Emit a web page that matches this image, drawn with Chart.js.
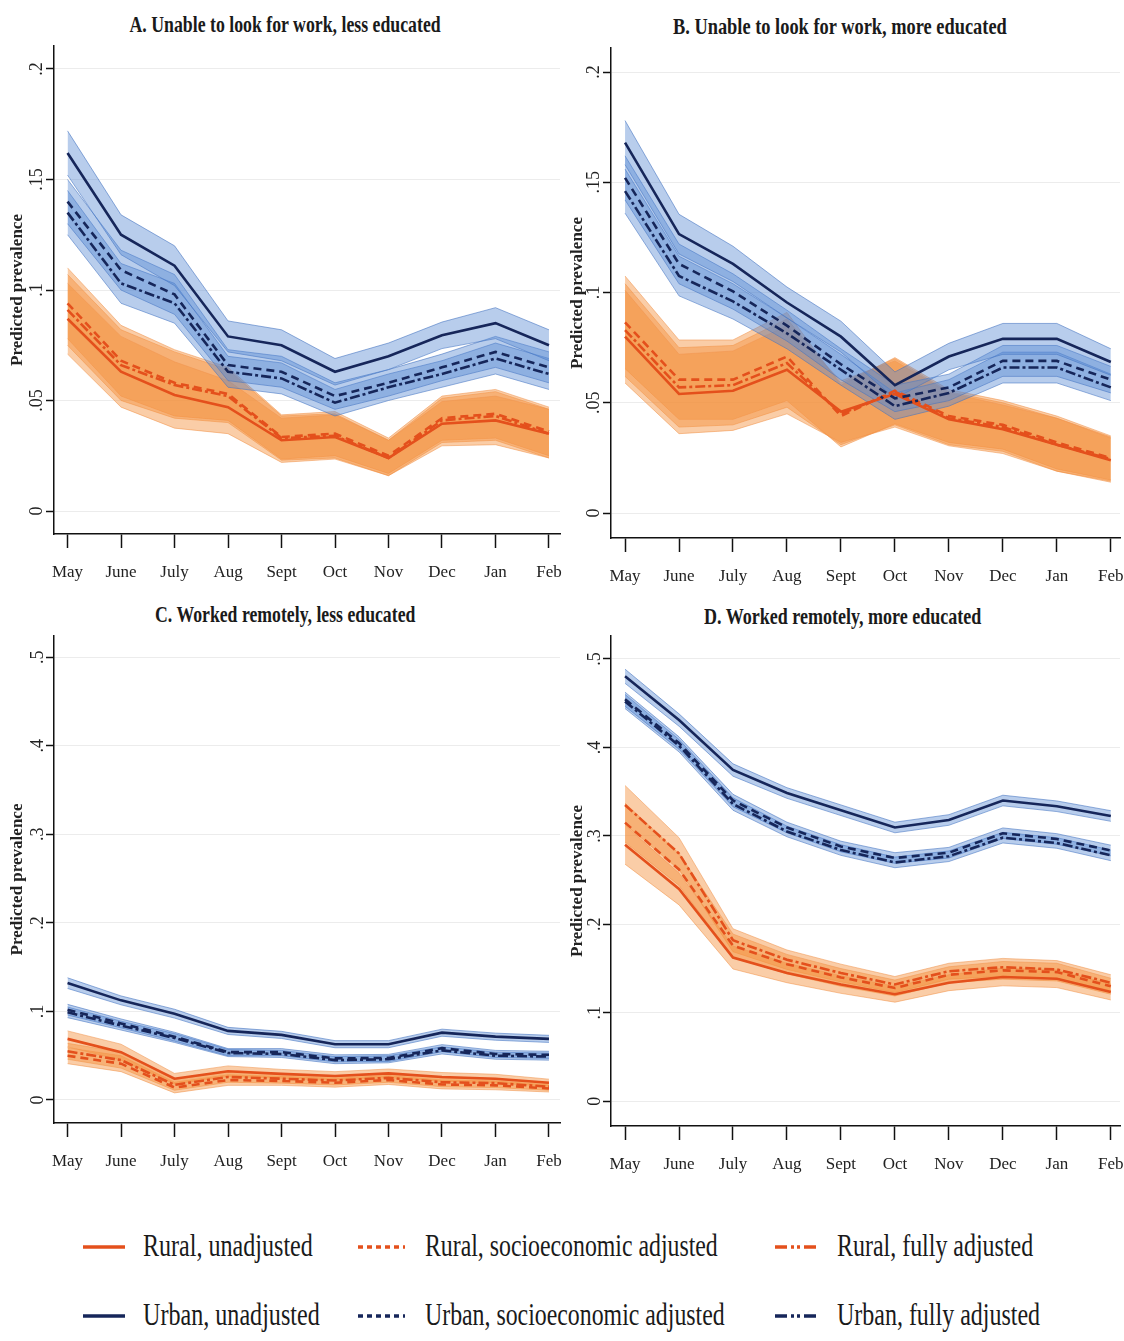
<!DOCTYPE html>
<html>
<head>
<meta charset="utf-8">
<script src="https://cdn.jsdelivr.net/npm/chart.js@4.4.1/dist/chart.umd.min.js"></script>
<style>
  html, body { margin: 0; padding: 0; background: #fff; }
  body { width: 1124px; height: 1341px; position: relative; overflow: hidden; font-family: 'Liberation Serif', serif; }
  .panel { position: absolute; }
  .title { position: absolute; width: 600px; text-align: center; font-weight: bold; font-size: 24px; line-height: 24px; color: #1a1a1a; white-space: nowrap; }
  .fit { display: inline-block; white-space: nowrap; transform-origin: center center; }
  .lg-text { position: absolute; font-size: 32px; line-height: 32px; color: #1a1a1a; white-space: nowrap; transform-origin: left center; }
  .lg-line { position: absolute; }
</style>
</head>
<body>

<div class="title" style="left:-15px; top:12px;"><span class="fit" data-w="311">A. Unable to look for work, less educated</span></div>
<div class="title" style="left:540px; top:14px;"><span class="fit" data-w="334">B. Unable to look for work, more educated</span></div>
<div class="title" style="left:-15px; top:602px;"><span class="fit" data-w="260">C. Worked remotely, less educated</span></div>
<div class="title" style="left:543px; top:604px;"><span class="fit" data-w="277">D. Worked remotely, more educated</span></div>

<div class="panel" style="left:0; top:0;"><canvas id="chartA" width="565" height="600"></canvas></div>
<div class="panel" style="left:560px; top:0;"><canvas id="chartB" width="564" height="600"></canvas></div>
<div class="panel" style="left:0; top:590px;"><canvas id="chartC" width="565" height="600"></canvas></div>
<div class="panel" style="left:560px; top:590px;"><canvas id="chartD" width="564" height="600"></canvas></div>

<div id="legend"></div>

<script>
// ── Data ─────────────────────────────────────────────────────────────────────
const months = ['May', 'June', 'July', 'Aug', 'Sept', 'Oct', 'Nov', 'Dec', 'Jan', 'Feb'];
const yTicksAB = [0, 0.05, 0.1, 0.15, 0.2];
const yTicksCD = [0, 0.1, 0.2, 0.3, 0.4, 0.5];

// A. Unable to look for work, less educated
const aUrbanUnadj = [0.162, 0.125, 0.111, 0.079, 0.075, 0.063, 0.070, 0.0795, 0.085, 0.075];
const aUrbanSocio = [0.140, 0.109, 0.098, 0.066, 0.063, 0.052, 0.058, 0.065, 0.072, 0.065];
const aUrbanFull  = [0.135, 0.103, 0.094, 0.063, 0.060, 0.049, 0.056, 0.062, 0.069, 0.062];
const aUrbanCI    = [0.010, 0.009, 0.009, 0.007, 0.007, 0.006, 0.006, 0.006, 0.007, 0.007];
const aRuralUnadj = [0.087, 0.063, 0.0525, 0.047, 0.032, 0.0335, 0.024, 0.0395, 0.041, 0.035];
const aRuralSocio = [0.094, 0.068, 0.058, 0.053, 0.0335, 0.035, 0.025, 0.042, 0.044, 0.036];
const aRuralFull  = [0.091, 0.066, 0.057, 0.052, 0.033, 0.034, 0.024, 0.041, 0.043, 0.035];
const aRuralCI    = [0.016, 0.016, 0.015, 0.012, 0.010, 0.010, 0.008, 0.010, 0.011, 0.011];

// B. Unable to look for work, more educated
const bUrbanUnadj = [0.168, 0.1265, 0.113, 0.0955, 0.080, 0.058, 0.071, 0.079, 0.079, 0.0685];
const bUrbanSocio = [0.152, 0.113, 0.1005, 0.085, 0.0675, 0.052, 0.057, 0.069, 0.069, 0.0605];
const bUrbanFull  = [0.146, 0.1075, 0.096, 0.0815, 0.065, 0.0485, 0.0545, 0.066, 0.066, 0.057];
const bUrbanCI    = [0.010, 0.009, 0.008, 0.007, 0.007, 0.006, 0.006, 0.007, 0.007, 0.006];
const bRuralUnadj = [0.080, 0.054, 0.0555, 0.065, 0.046, 0.054, 0.0425, 0.038, 0.031, 0.024];
const bRuralSocio = [0.0865, 0.0605, 0.0605, 0.071, 0.044, 0.0555, 0.044, 0.040, 0.032, 0.025];
const bRuralFull  = [0.083, 0.057, 0.058, 0.068, 0.045, 0.055, 0.043, 0.039, 0.031, 0.0245];
const bRuralCI    = [0.021, 0.018, 0.018, 0.020, 0.014, 0.015, 0.012, 0.011, 0.012, 0.010];

// C. Worked remotely, less educated
const cUrbanUnadj = [0.132, 0.1125, 0.0975, 0.078, 0.0735, 0.063, 0.063, 0.076, 0.0715, 0.069];
const cUrbanSocio = [0.102, 0.0865, 0.0715, 0.054, 0.054, 0.047, 0.0475, 0.0585, 0.052, 0.051];
const cUrbanFull  = [0.099, 0.084, 0.070, 0.053, 0.052, 0.045, 0.046, 0.056, 0.050, 0.049];
const cUrbanCI    = [0.006, 0.005, 0.005, 0.004, 0.004, 0.004, 0.004, 0.004, 0.004, 0.004];
const cRuralUnadj = [0.069, 0.054, 0.024, 0.0325, 0.0295, 0.027, 0.030, 0.026, 0.024, 0.0195];
const cRuralSocio = [0.050, 0.041, 0.014, 0.0225, 0.0215, 0.0195, 0.0225, 0.0175, 0.0165, 0.013];
const cRuralFull  = [0.055, 0.045, 0.017, 0.026, 0.024, 0.022, 0.025, 0.020, 0.019, 0.015];
const cRuralCI    = [0.009, 0.009, 0.006, 0.006, 0.005, 0.005, 0.005, 0.005, 0.005, 0.004];

// D. Worked remotely, more educated
const dUrbanUnadj = [0.4805, 0.431, 0.3745, 0.3485, 0.329, 0.3095, 0.318, 0.340, 0.3335, 0.3225];
const dUrbanSocio = [0.4545, 0.405, 0.340, 0.3095, 0.288, 0.275, 0.281, 0.303, 0.2965, 0.2835];
const dUrbanFull  = [0.452, 0.402, 0.336, 0.305, 0.284, 0.270, 0.277, 0.298, 0.292, 0.278];
const dUrbanCI    = [0.008, 0.007, 0.007, 0.006, 0.006, 0.006, 0.006, 0.006, 0.006, 0.006];
const dRuralUnadj = [0.290, 0.240, 0.1625, 0.145, 0.132, 0.121, 0.134, 0.1405, 0.1385, 0.1235];
const dRuralSocio = [0.315, 0.262, 0.176, 0.155, 0.140, 0.128, 0.143, 0.148, 0.146, 0.130];
const dRuralFull  = [0.335, 0.280, 0.182, 0.160, 0.145, 0.132, 0.147, 0.1515, 0.149, 0.134];
const dRuralCI    = [0.022, 0.018, 0.013, 0.011, 0.010, 0.009, 0.009, 0.010, 0.010, 0.009];

const legendLabels = [
  'Rural, unadjusted', 'Rural, socioeconomic adjusted', 'Rural, fully adjusted',
  'Urban, unadjusted', 'Urban, socioeconomic adjusted', 'Urban, fully adjusted'
];

// ── Styles ───────────────────────────────────────────────────────────────────
const URBAN_LINE  = '#16265a';
const RURAL_LINE  = '#e4501c';
const URBAN_BAND  = 'rgba(85,135,210,0.42)';
const URBAN_EDGE  = 'rgba(60,110,190,0.55)';
const RURAL_BAND  = 'rgba(243,145,60,0.45)';
const RURAL_EDGE  = 'rgba(240,150,80,0.55)';
const DASH = { unadj: [], socio: [8, 5], full: [10, 3, 3, 3] };

Chart.defaults.font.family = "'Liberation Serif', serif";

const fmtY = v => (v === 0 ? '0' : String(v).replace(/^0/, ''));
const pts  = arr => arr.map((v, i) => ({ x: i, y: v }));

function makePanel(id, p) {
  const datasets = [];
  p.series.forEach(s => {
    const urban = s.area === 'urban';
    const up = datasets.length;
    datasets.push({
      data: pts(s.mean.map((v, i) => v + s.ci[i])),
      borderColor: urban ? URBAN_EDGE : RURAL_EDGE, borderWidth: 1,
      backgroundColor: urban ? URBAN_BAND : RURAL_BAND,
      pointRadius: 0, fill: { target: up + 1 }, order: 10
    });
    datasets.push({
      data: pts(s.mean.map((v, i) => v - s.ci[i])),
      borderColor: urban ? URBAN_EDGE : RURAL_EDGE, borderWidth: 1,
      pointRadius: 0, fill: false, order: 10
    });
  });
  p.series.forEach(s => {
    datasets.push({
      data: pts(s.mean),
      borderColor: s.area === 'urban' ? URBAN_LINE : RURAL_LINE,
      borderWidth: 2.6, borderDash: DASH[s.kind],
      pointRadius: 0, fill: false, order: 1
    });
  });

  return new Chart(document.getElementById(id), {
    type: 'line',
    data: { datasets },
    options: {
      responsive: false,
      animation: false,
      layout: { padding: { top: p.padTop, right: p.padRight, left: 0, bottom: 0 } },
      plugins: { legend: { display: false }, tooltip: { enabled: false } },
      scales: {
        x: {
          type: 'linear', min: p.xMin, max: p.xMax,
          afterBuildTicks: ax => { ax.ticks = months.map((m, i) => ({ value: i })); },
          afterFit: ax => { ax.height = p.xAxisH; ax.paddingLeft = 0; ax.paddingRight = 0; },
          ticks: { autoSkip: false, minRotation: 0, maxRotation: 0, padding: 14, color: '#222',
                   font: { size: 17 }, callback: v => months[v] },
          grid: { drawOnChartArea: false, drawTicks: true, tickLength: 14, tickColor: '#111', tickWidth: 1.5 },
          border: { display: true, color: '#111', width: 1.5 }
        },
        y: {
          min: p.yMin, max: p.yMax,
          afterBuildTicks: ax => { ax.ticks = p.yTicks.map(v => ({ value: v })); },
          afterFit: ax => { ax.width = p.yAxisW; ax.paddingTop = 0; ax.paddingBottom = 0; },
          ticks: { minRotation: 90, maxRotation: 90, crossAlign: 'center', padding: p.yTickPad,
                   color: '#222', font: { size: 18 }, callback: fmtY },
          grid: { color: '#ececec', lineWidth: 1, tickLength: 8, tickColor: '#111', tickWidth: 1.5 },
          border: { display: true, color: '#111', width: 1.5 },
          title: { display: true, text: 'Predicted prevalence', color: '#222',
                   font: { size: 17, weight: 'bold' }, padding: { top: 7, bottom: 0 } }
        }
      }
    }
  });
}

function series(uU, uS, uF, uCI, rU, rS, rF, rCI) {
  return [
    { area: 'urban', kind: 'unadj', mean: uU, ci: uCI },
    { area: 'urban', kind: 'socio', mean: uS, ci: uCI },
    { area: 'urban', kind: 'full',  mean: uF, ci: uCI },
    { area: 'rural', kind: 'unadj', mean: rU, ci: rCI },
    { area: 'rural', kind: 'socio', mean: rS, ci: rCI },
    { area: 'rural', kind: 'full',  mean: rF, ci: rCI }
  ];
}

makePanel('chartA', {
  series: series(aUrbanUnadj, aUrbanSocio, aUrbanFull, aUrbanCI, aRuralUnadj, aRuralSocio, aRuralFull, aRuralCI),
  yMin: -0.0104, yMax: 0.2104, yTicks: yTicksAB, xMin: -0.253, xMax: 9.206,
  padTop: 46, padRight: 5, yAxisW: 54, xAxisH: 66, yTickPad: -3
});
makePanel('chartB', {
  series: series(bUrbanUnadj, bUrbanSocio, bUrbanFull, bUrbanCI, bRuralUnadj, bRuralSocio, bRuralFull, bRuralCI),
  yMin: -0.0113, yMax: 0.2109, yTicks: yTicksAB, xMin: -0.26, xMax: 9.17,
  padTop: 48, padRight: 4, yAxisW: 51, xAxisH: 62, yTickPad: -3
});
makePanel('chartC', {
  series: series(cUrbanUnadj, cUrbanSocio, cUrbanFull, cUrbanCI, cRuralUnadj, cRuralSocio, cRuralFull, cRuralCI),
  yMin: -0.026, yMax: 0.524, yTicks: yTicksCD, xMin: -0.253, xMax: 9.206,
  padTop: 46, padRight: 5, yAxisW: 54, xAxisH: 67, yTickPad: 1
});
makePanel('chartD', {
  series: series(dUrbanUnadj, dUrbanSocio, dUrbanFull, dUrbanCI, dRuralUnadj, dRuralSocio, dRuralFull, dRuralCI),
  yMin: -0.028, yMax: 0.526, yTicks: yTicksCD, xMin: -0.26, xMax: 9.17,
  padTop: 46, padRight: 4, yAxisW: 51, xAxisH: 64, yTickPad: 1
});

// ── Legend ───────────────────────────────────────────────────────────────────
const legendSlots = [
  { x1: 83,  x2: 125, tx: 143, tw: 170, cy: 1247 },
  { x1: 358, x2: 405, tx: 425, tw: 293, cy: 1247 },
  { x1: 775, x2: 818, tx: 837, tw: 196, cy: 1247 },
  { x1: 83,  x2: 125, tx: 143, tw: 177, cy: 1316 },
  { x1: 358, x2: 405, tx: 425, tw: 300, cy: 1316 },
  { x1: 775, x2: 818, tx: 837, tw: 203, cy: 1316 }
];
const legendDash = [[], [5, 4], [12, 4, 3, 3, 3, 4]];

const legendEl = document.getElementById('legend');
legendLabels.forEach((label, i) => {
  const slot = legendSlots[i];
  const urban = i >= 3;

  const cv = document.createElement('canvas');
  cv.className = 'lg-line';
  cv.width = slot.x2 - slot.x1;
  cv.height = 10;
  cv.style.left = slot.x1 + 'px';
  cv.style.top = (slot.cy - 5) + 'px';
  legendEl.appendChild(cv);
  const ctx = cv.getContext('2d');
  ctx.strokeStyle = urban ? URBAN_LINE : RURAL_LINE;
  ctx.lineWidth = 3.5;
  ctx.setLineDash(legendDash[i % 3]);
  ctx.beginPath();
  ctx.moveTo(0, 5);
  ctx.lineTo(cv.width, 5);
  ctx.stroke();

  const t = document.createElement('div');
  t.className = 'lg-text';
  t.textContent = label;
  t.style.left = slot.tx + 'px';
  t.style.top = (slot.cy - 18) + 'px';
  legendEl.appendChild(t);
  t.style.transform = `scaleX(${slot.tw / t.offsetWidth})`;
});

// squeeze the panel titles to the condensed look of the original
document.querySelectorAll('.fit').forEach(el => {
  el.style.transform = `scaleX(${+el.dataset.w / el.offsetWidth})`;
});
</script>
</body>
</html>
